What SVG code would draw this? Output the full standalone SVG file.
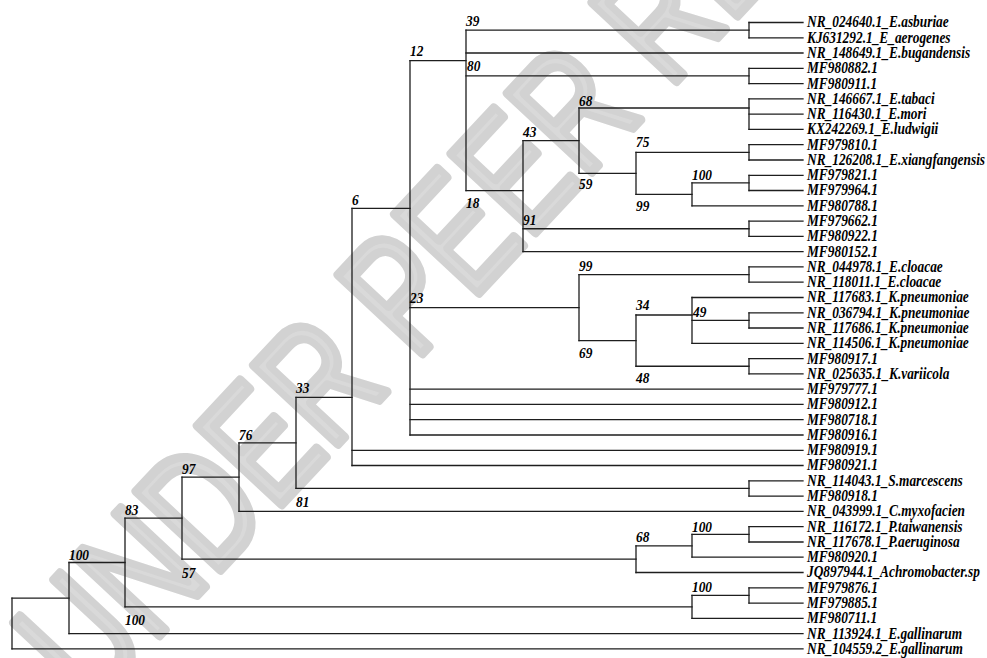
<svg xmlns="http://www.w3.org/2000/svg" width="987" height="658" viewBox="0 0 987 658">
<style>
.wm{font-family:"Liberation Sans",Arial,sans-serif;font-weight:normal;font-size:124px;fill:#d9d9d9;stroke:#d2d2d2;stroke-width:7;stroke-linejoin:round}
.br{fill:none;stroke:#1e1e1e;stroke-width:1.3;stroke-linecap:square}
.lf{font-family:"Liberation Serif","Times New Roman",serif;font-weight:bold;font-style:italic;font-size:16.5px;fill:#000}
.bs{font-family:"Liberation Serif","Times New Roman",serif;font-weight:bold;font-style:italic;font-size:15px;fill:#000}
</style>
<rect width="987" height="658" fill="#fff"/>
<g id="watermark" transform="translate(503 180) rotate(-47) scale(1 1.35)">
<text class="wm" x="0" y="44" text-anchor="middle">UNDER PEER REVIEW</text>
</g>
<g id="connectors" class="br">
<path d="M12 598.05V648.9M69 562.5V633.6M125 518.15V606.9M182 477.15V559.15M239 442.9V511.4M296 397.3V488.45M352 208.3V465.5M410 60.7V435M466 30.15V190.7M523 140.7V251.6M579 108V173.35M636 152.35V194.35M692 182.9V205.8M579 274.55V340.6M636 315V366.25M692 297.5V343.3M636 545.8V572.5M692 534.35V557.2M692 595.45V618.4"/>
<path d="M749 22.5V37.8M749 68.3V83.6M749 98.9V129.4M749 144.7V160M749 175.3V190.5M749 221.1V236.4M749 266.9V282.2M749 312.8V328M749 358.6V373.9M749 480.8V496.1M749 526.7V542M749 587.8V603.1"/>
<path d="M12 598.05H69M12 648.9H803M69 562.5H125M69 633.6H803M125 518.15H182M125 606.9H692M182 477.15H239M182 559.15H636M239 442.9H296M239 511.4H803M296 397.3H352M296 488.45H749M352 208.3H410M352 450.3H803M352 465.5H803M410 60.7H466M410 307.6H579M410 389.2H803M410 404.4H803M410 419.7H803M410 435H803"/>
<path d="M466 30.15H749M466 53H803M466 75.95H749M466 190.7H523M523 140.7H579M523 228.75H749M523 251.6H803M579 108H749M579 173.35H636M636 152.35H749M636 194.35H692M692 182.9H749M692 205.8H803M579 274.55H749M579 340.6H636M636 315H692M636 366.25H749M692 297.5H803M692 320.4H749M692 343.3H803M636 545.8H692M636 572.5H803M692 534.35H749M692 557.2H803M692 595.45H749M692 618.4H803"/>
<path d="M749 22.5H803M749 37.8H803M749 68.3H803M749 83.6H803M749 98.9H803M749 114.2H803M749 129.4H803M749 144.7H803M749 160H803M749 175.3H803M749 190.5H803M749 221.1H803M749 236.4H803M749 266.9H803M749 282.2H803M749 312.8H803M749 328H803M749 358.6H803M749 373.9H803M749 480.8H803M749 496.1H803M749 526.7H803M749 542H803M749 587.8H803M749 603.1H803"/>
</g>
<g id="leaves" class="lf" transform="translate(807 0) scale(0.81 1)">
<g id="leaf01"><text x="0" y="27.5">NR_024640.1_E.asburiae</text></g>
<g id="leaf02"><text x="0" y="42.8">KJ631292.1_E_aerogenes</text></g>
<g id="leaf03"><text x="0" y="58">NR_148649.1_E.bugandensis</text></g>
<g id="leaf04"><text x="0" y="73.3">MF980882.1</text></g>
<g id="leaf05"><text x="0" y="88.6">MF980911.1</text></g>
<g id="leaf06"><text x="0" y="103.9">NR_146667.1_E.tabaci</text></g>
<g id="leaf07"><text x="0" y="119.2">NR_116430.1_E.mori</text></g>
<g id="leaf08"><text x="0" y="134.4">KX242269.1_E.ludwigii</text></g>
<g id="leaf09"><text x="0" y="149.7">MF979810.1</text></g>
<g id="leaf10"><text x="0" y="165">NR_126208.1_E.xiangfangensis</text></g>
<g id="leaf11"><text x="0" y="180.3">MF979821.1</text></g>
<g id="leaf12"><text x="0" y="195.5">MF979964.1</text></g>
<g id="leaf13"><text x="0" y="210.8">MF980788.1</text></g>
<g id="leaf14"><text x="0" y="226.1">MF979662.1</text></g>
<g id="leaf15"><text x="0" y="241.4">MF980922.1</text></g>
<g id="leaf16"><text x="0" y="256.6">MF980152.1</text></g>
<g id="leaf17"><text x="0" y="271.9">NR_044978.1_E.cloacae</text></g>
<g id="leaf18"><text x="0" y="287.2">NR_118011.1_E.cloacae</text></g>
<g id="leaf19"><text x="0" y="302.5">NR_117683.1_K.pneumoniae</text></g>
<g id="leaf20"><text x="0" y="317.8">NR_036794.1_K.pneumoniae</text></g>
<g id="leaf21"><text x="0" y="333">NR_117686.1_K.pneumoniae</text></g>
<g id="leaf22"><text x="0" y="348.3">NR_114506.1_K.pneumoniae</text></g>
<g id="leaf23"><text x="0" y="363.6">MF980917.1</text></g>
<g id="leaf24"><text x="0" y="378.9">NR_025635.1_K.variicola</text></g>
<g id="leaf25"><text x="0" y="394.2">MF979777.1</text></g>
<g id="leaf26"><text x="0" y="409.4">MF980912.1</text></g>
<g id="leaf27"><text x="0" y="424.7">MF980718.1</text></g>
<g id="leaf28"><text x="0" y="440">MF980916.1</text></g>
<g id="leaf29"><text x="0" y="455.3">MF980919.1</text></g>
<g id="leaf30"><text x="0" y="470.5">MF980921.1</text></g>
<g id="leaf31"><text x="0" y="485.8">NR_114043.1_S.marcescens</text></g>
<g id="leaf32"><text x="0" y="501.1">MF980918.1</text></g>
<g id="leaf33"><text x="0" y="516.4">NR_043999.1_C.myxofacien</text></g>
<g id="leaf34"><text x="0" y="531.7">NR_116172.1_P.taiwanensis</text></g>
<g id="leaf35"><text x="0" y="547">NR_117678.1_P.aeruginosa</text></g>
<g id="leaf36"><text x="0" y="562.2">MF980920.1</text></g>
<g id="leaf37"><text x="0" y="577.5">JQ897944.1_Achromobacter.sp</text></g>
<g id="leaf38"><text x="0" y="592.8">MF979876.1</text></g>
<g id="leaf39"><text x="0" y="608.1">MF979885.1</text></g>
<g id="leaf40"><text x="0" y="623.4">MF980711.1</text></g>
<g id="leaf41"><text x="0" y="638.6">NR_113924.1_E.gallinarum</text></g>
<g id="leaf42"><text x="0" y="653.9">NR_104559.2_E.gallinarum</text></g>
</g>
<g id="bootstrap" class="bs">
<g id="n39"><text transform="translate(466 25.7) scale(0.89 1)">39</text></g>
<g id="n12"><text transform="translate(410 56) scale(0.89 1)">12</text></g>
<g id="n80"><text transform="translate(467 70.5) scale(0.89 1)">80</text></g>
<g id="n68a"><text transform="translate(579 106) scale(0.89 1)">68</text></g>
<g id="n43"><text transform="translate(523 137) scale(0.89 1)">43</text></g>
<g id="n75"><text transform="translate(636 147) scale(0.89 1)">75</text></g>
<g id="n59"><text transform="translate(579 189) scale(0.89 1)">59</text></g>
<g id="n18"><text transform="translate(466 208) scale(0.89 1)">18</text></g>
<g id="n100a"><text transform="translate(692 179.5) scale(0.89 1)">100</text></g>
<g id="n99a"><text transform="translate(636 211) scale(0.89 1)">99</text></g>
<g id="n91"><text transform="translate(523 225) scale(0.89 1)">91</text></g>
<g id="n6"><text transform="translate(352 205) scale(0.89 1)">6</text></g>
<g id="n99b"><text transform="translate(579 270.5) scale(0.89 1)">99</text></g>
<g id="n23"><text transform="translate(410 303) scale(0.89 1)">23</text></g>
<g id="n34"><text transform="translate(636 309.5) scale(0.89 1)">34</text></g>
<g id="n49"><text transform="translate(693 316.5) scale(0.89 1)">49</text></g>
<g id="n69"><text transform="translate(579 358) scale(0.89 1)">69</text></g>
<g id="n48"><text transform="translate(636 383) scale(0.89 1)">48</text></g>
<g id="n33"><text transform="translate(296 393) scale(0.89 1)">33</text></g>
<g id="n76"><text transform="translate(239 440) scale(0.89 1)">76</text></g>
<g id="n97"><text transform="translate(182 474) scale(0.89 1)">97</text></g>
<g id="n81"><text transform="translate(296 506.5) scale(0.89 1)">81</text></g>
<g id="n83"><text transform="translate(125 515) scale(0.89 1)">83</text></g>
<g id="n100b"><text transform="translate(692 531.5) scale(0.89 1)">100</text></g>
<g id="n68b"><text transform="translate(636 541.5) scale(0.89 1)">68</text></g>
<g id="n100c"><text transform="translate(69 559.5) scale(0.89 1)">100</text></g>
<g id="n57"><text transform="translate(182 578) scale(0.89 1)">57</text></g>
<g id="n100d"><text transform="translate(692 591.5) scale(0.89 1)">100</text></g>
<g id="n100e"><text transform="translate(125 625) scale(0.89 1)">100</text></g>
</g>
</svg>
